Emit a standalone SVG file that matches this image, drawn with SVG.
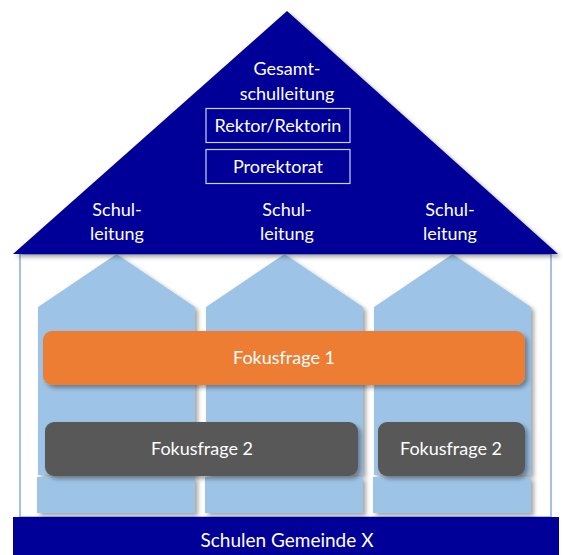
<svg xmlns="http://www.w3.org/2000/svg" width="563" height="555" viewBox="0 0 563 555">
<defs>
<filter id="sh" x="-10%" y="-10%" width="130%" height="130%">
<feDropShadow dx="3" dy="3" stdDeviation="2" flood-color="#000" flood-opacity="0.35"/>
</filter>
</defs>
<style>
.navy{fill:#000099}
.pillar{fill:#9dc3e6;filter:url(#sh)}
.t{font-family:Lato,"Open Sans",sans-serif;font-size:18px;fill:#fff;text-anchor:middle}
.box{fill:none;stroke:#c9d3f2;stroke-width:1.2}
</style>
<rect width="563" height="555" fill="#fff"/>
<g id="house-body">
<rect x="20" y="254" width="531" height="263" fill="#fff" stroke="#8ea9db" stroke-width="1.5"/>
</g>
<g id="pillars">
<path class="pillar" d="M38,307 L116.5,254 L195,307 L195,475 L38,475 Z"/>
<path class="pillar" d="M206,307 L284.5,254 L363,307 L363,475 L206,475 Z"/>
<path class="pillar" d="M374,307 L452.5,254 L531,307 L531,475 L374,475 Z"/>
<rect class="pillar" x="37" y="477" width="158" height="36"/>
<rect class="pillar" x="205" y="477" width="158" height="36"/>
<rect class="pillar" x="373" y="477" width="158" height="36"/>
</g>
<g id="roof">
<path class="navy" style="filter:url(#sh)" d="M287,11 L558,254 L13,254 Z"/>
<text class="t" x="287" y="75">Gesamt-</text>
<text class="t" x="287" y="100">schulleitung</text>
</g>
<g id="rektor">
<rect class="box" x="206" y="108.5" width="144" height="34"/>
<text class="t" x="278" y="132">Rektor/Rektorin</text>
</g>
<g id="prorektorat">
<rect class="box" x="206" y="149.5" width="144" height="34"/>
<text class="t" x="278" y="173">Prorektorat</text>
</g>
<g id="schulleitung1">
<text class="t" x="117" y="216">Schul-</text>
<text class="t" x="117" y="240">leitung</text>
</g>
<g id="schulleitung2">
<text class="t" x="287" y="216">Schul-</text>
<text class="t" x="287" y="240">leitung</text>
</g>
<g id="schulleitung3">
<text class="t" x="450" y="216">Schul-</text>
<text class="t" x="450" y="240">leitung</text>
</g>
<g id="fokus1">
<rect x="43" y="331" width="482" height="54" rx="9" fill="#ed7d31" filter="url(#sh)"/>
<text class="t" x="284" y="364">Fokusfrage 1</text>
</g>
<g id="fokus2a">
<rect x="45" y="422" width="313" height="54" rx="9" fill="#595959" filter="url(#sh)"/>
<text class="t" x="202" y="455">Fokusfrage 2</text>
</g>
<g id="fokus2b">
<rect x="378" y="422" width="147" height="54" rx="9" fill="#595959" filter="url(#sh)"/>
<text class="t" x="451" y="455">Fokusfrage 2</text>
</g>
<g id="base">
<rect class="navy" x="13" y="517" width="546" height="38"/>
<text class="t" x="287" y="547" style="font-size:19px">Schulen Gemeinde X</text>
</g>
<g id="connectors"></g>
</svg>
